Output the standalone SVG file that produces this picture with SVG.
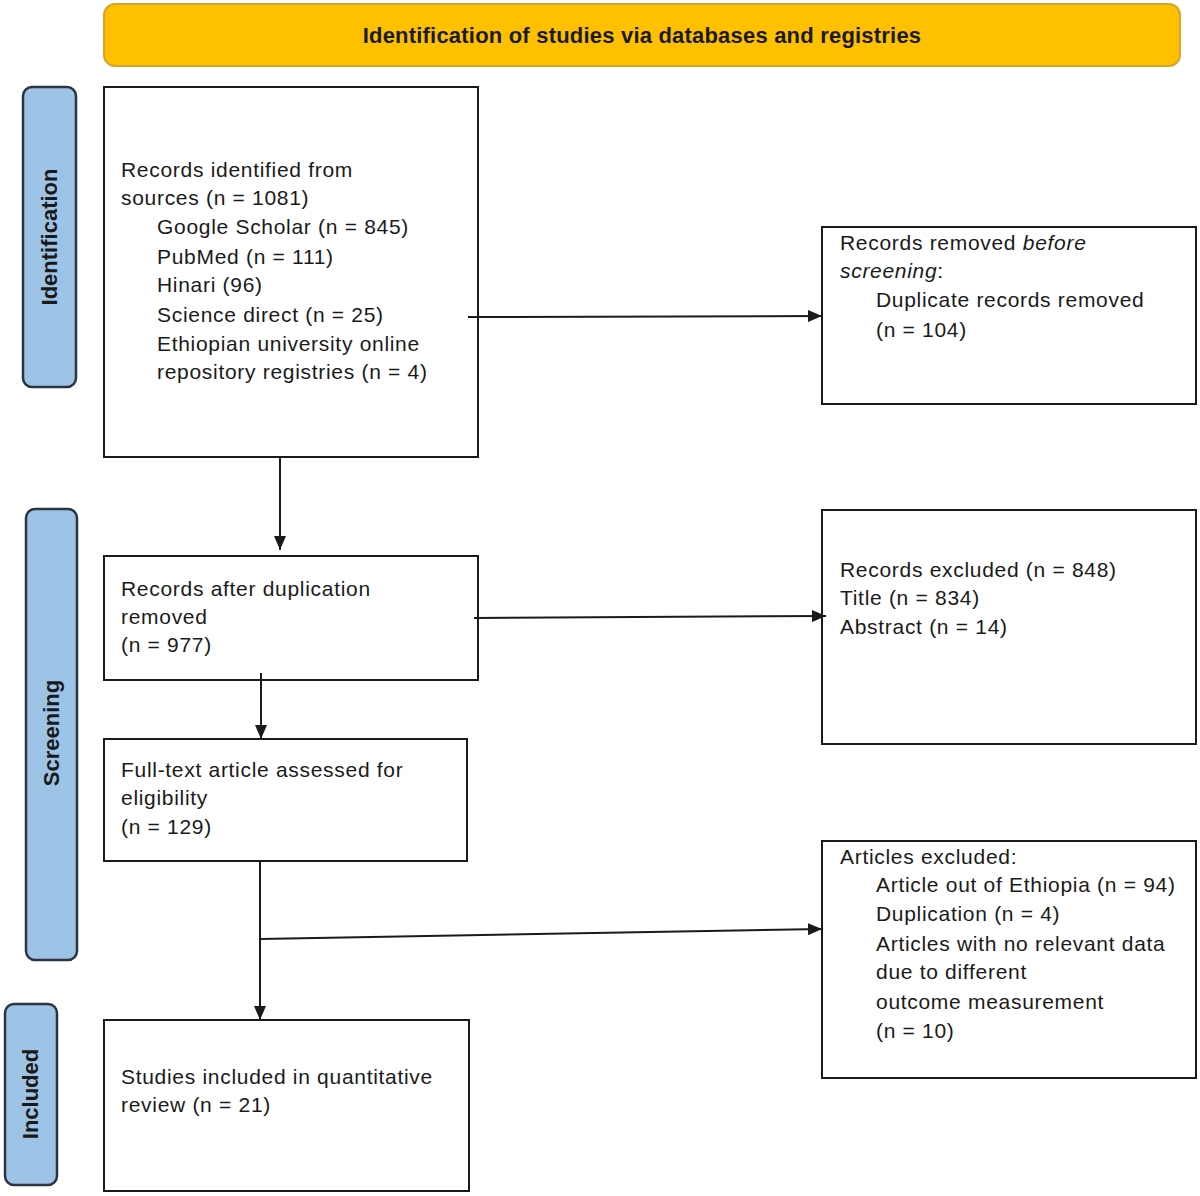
<svg xmlns="http://www.w3.org/2000/svg" width="1200" height="1196" viewBox="0 0 1200 1196">
<defs>
<style>
.box{fill:#fff;stroke:#1a1a1a;stroke-width:2}
.phase{fill:#9DC3E6;stroke:#2b3440;stroke-width:2.5}
.hdr{fill:#FFC000;stroke:#D4A72C;stroke-width:2}
.t{font-family:"Liberation Sans",Arial,sans-serif;font-size:21px;fill:#1a1a1a;letter-spacing:0.7px}
.pt{font-family:"Liberation Sans",Arial,sans-serif;font-size:22px;font-weight:bold;fill:#1a1a1a;text-anchor:middle}
.ht{font-family:"Liberation Sans",Arial,sans-serif;font-size:22px;font-weight:bold;fill:#1a1a1a;text-anchor:middle;letter-spacing:0.2px}
.c{stroke:#1a1a1a;stroke-width:2;fill:none;marker-end:url(#ah)}
</style>
<marker id="ah" viewBox="0 0 14 12" refX="14" refY="6" markerWidth="14" markerHeight="12" markerUnits="userSpaceOnUse" orient="auto">
<path d="M0,0 L14,6 L0,12 Z" fill="#1a1a1a"/>
</marker>
</defs>
<rect width="1200" height="1196" fill="#fff"/>

<g id="header">
<rect class="hdr" x="104" y="4" width="1076" height="62" rx="11"/>
<text class="ht" x="642" y="43">Identification of studies via databases and registries</text>
</g>

<g id="phase-identification">
<rect class="phase" x="23" y="87" width="53" height="300" rx="9"/>
<text class="pt" transform="translate(57,237) rotate(-90)">Identification</text>
</g>
<g id="phase-screening">
<rect class="phase" x="26" y="509" width="51" height="451" rx="9"/>
<text class="pt" transform="translate(59,733) rotate(-90)">Screening</text>
</g>
<g id="phase-included">
<rect class="phase" x="5" y="1004" width="52" height="181" rx="9"/>
<text class="pt" transform="translate(38,1094) rotate(-90)">Included</text>
</g>

<g id="records-identified">
<rect class="box" x="104" y="87" width="374" height="370"/>
<text class="t" x="121" y="177">Records identified from</text>
<text class="t" x="121" y="205">sources (n = 1081)</text>
<text class="t" x="157" y="234">Google Scholar (n = 845)</text>
<text class="t" x="157" y="264">PubMed (n = 111)</text>
<text class="t" x="157" y="292">Hinari (96)</text>
<text class="t" x="157" y="322">Science direct (n = 25)</text>
<text class="t" x="157" y="351">Ethiopian university online</text>
<text class="t" x="157" y="379">repository registries (n = 4)</text>
</g>

<g id="records-removed">
<rect class="box" x="822" y="227" width="374" height="177"/>
<text class="t" x="840" y="250">Records removed <tspan font-style="italic">before</tspan></text>
<text class="t" x="840" y="278"><tspan font-style="italic">screening</tspan>:</text>
<text class="t" x="876" y="307">Duplicate records removed</text>
<text class="t" x="876" y="337">(n = 104)</text>
</g>

<g id="records-after-dup">
<rect class="box" x="104" y="556" width="374" height="124"/>
<text class="t" x="121" y="596">Records after duplication</text>
<text class="t" x="121" y="624">removed</text>
<text class="t" x="121" y="652">(n = 977)</text>
</g>

<g id="records-excluded">
<rect class="box" x="822" y="510" width="374" height="234"/>
<text class="t" x="840" y="577">Records excluded (n = 848)</text>
<text class="t" x="840" y="605">Title (n = 834)</text>
<text class="t" x="840" y="634">Abstract (n = 14)</text>
</g>

<g id="full-text">
<rect class="box" x="104" y="739" width="363" height="122"/>
<text class="t" x="121" y="777">Full-text article assessed for</text>
<text class="t" x="121" y="805">eligibility</text>
<text class="t" x="121" y="834">(n = 129)</text>
</g>

<g id="articles-excluded">
<rect class="box" x="822" y="841" width="374" height="237"/>
<text class="t" x="840" y="864">Articles excluded:</text>
<text class="t" x="876" y="892">Article out of Ethiopia (n = 94)</text>
<text class="t" x="876" y="921">Duplication (n = 4)</text>
<text class="t" x="876" y="951">Articles with no relevant data</text>
<text class="t" x="876" y="979">due to different</text>
<text class="t" x="876" y="1009">outcome measurement</text>
<text class="t" x="876" y="1038">(n = 10)</text>
</g>

<g id="studies-included">
<rect class="box" x="104" y="1020" width="365" height="171"/>
<text class="t" x="121" y="1084">Studies included in quantitative</text>
<text class="t" x="121" y="1112">review (n = 21)</text>
</g>

<g id="connectors">
<path class="c" d="M468,317 L822,316"/>
<path class="c" d="M280,457 L280,550"/>
<path class="c" d="M474,618 L826,616"/>
<path class="c" d="M261,673 L261,739"/>
<path class="c" d="M260,861 L260,1020"/>
<path class="c" d="M260,939 L822,929"/>
</g>
</svg>
